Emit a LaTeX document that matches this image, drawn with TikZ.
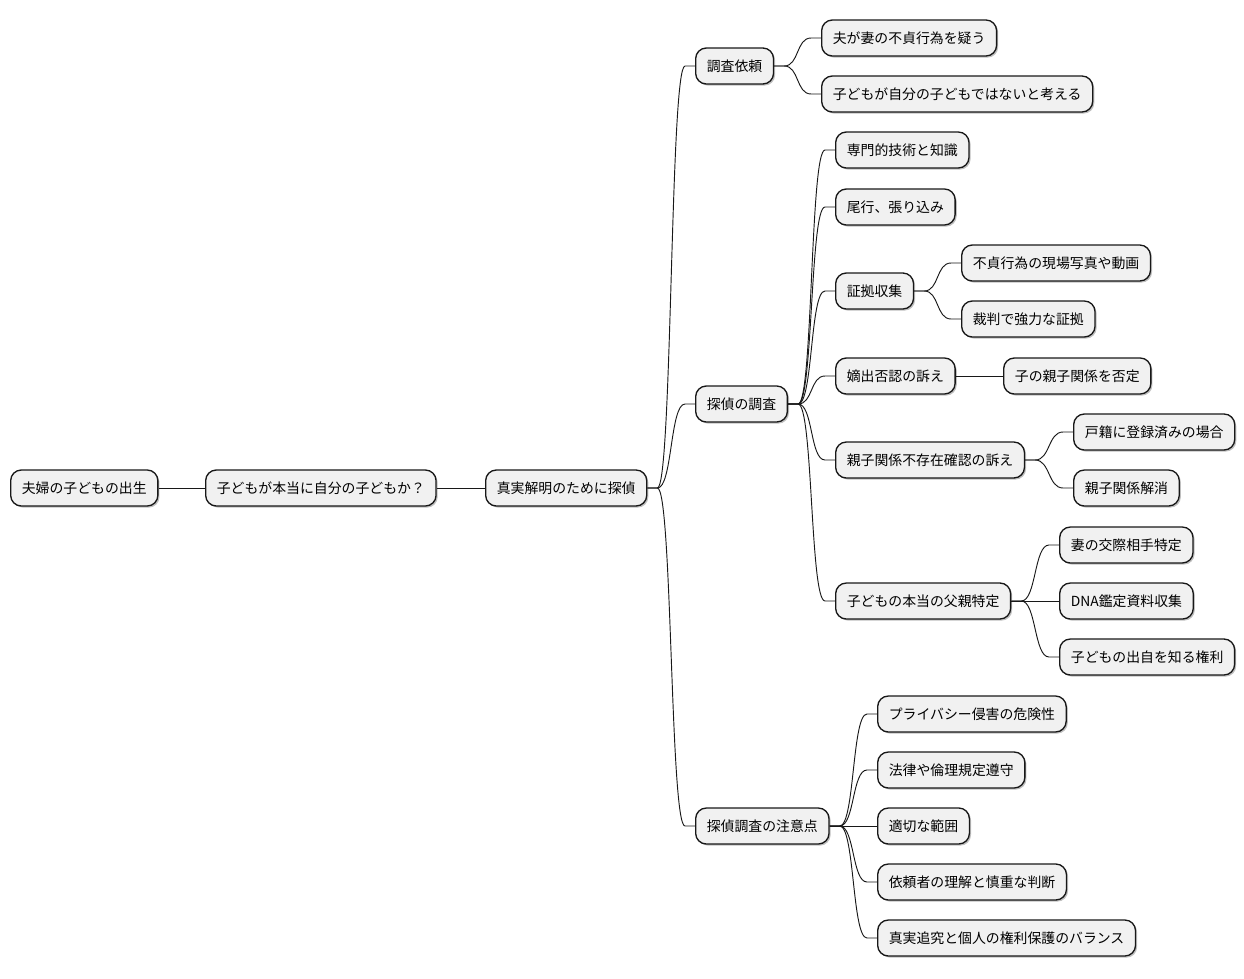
\documentclass[tikz,border=0pt]{standalone}
\usepackage{fontspec}
\setmainfont{Noto Sans CJK JP}
\usetikzlibrary{calc,shadows}
\definecolor{boxfill}{HTML}{F1F1F1}
\definecolor{boxline}{HTML}{181818}
\tikzset{
  mm/.style={draw=boxline, line width=1pt, fill=boxfill, rounded corners=8pt,
    anchor=west, minimum height=27pt, inner ysep=0pt, inner xsep=8.4pt,
    font=\fontsize{10.4pt}{12pt}\selectfont,
    drop shadow={shadow xshift=1.2pt, shadow yshift=-1.2pt, opacity=0.25, fill=black}},
  edge/.style={draw=boxline, line width=0.7pt}
}
\newcommand\mmconn[2]{\draw[edge] (#1.east) -- ++(10,0) .. controls +(15,0) and ($(#2.west)+(-25,0)$) .. ($(#2.west)+(-10,0)$) -- (#2.west);}
\newcommand\mmline[2]{\draw[edge] ($(#1.east)+(0,0.5)$) -- ($(#2.west)+(0,0.5)$);}
\begin{document}
\begin{tikzpicture}[x=0.75pt,y=-0.75pt]
\useasboundingbox (0,0) rectangle (1244,978);
\node[mm] (n0) at (10,488) {夫婦の子どもの出生};
\node[mm] (n1) at (205,488) {子どもが本当に自分の子どもか？};
\node[mm] (n2) at (485,488) {真実解明のために探偵};
\node[mm] (a) at (695,66) {調査依頼};
\node[mm] (a1) at (821,38) {夫が妻の不貞行為を疑う};
\node[mm] (a2) at (821,94) {子どもが自分の子どもではないと考える};
\node[mm] (b) at (695,404) {探偵の調査};
\node[mm] (b1) at (835,150) {専門的技術と知識};
\node[mm] (b2) at (835,207) {尾行、張り込み};
\node[mm] (b3) at (835,291) {証拠収集};
\node[mm] (b31) at (961,263) {不貞行為の現場写真や動画};
\node[mm] (b32) at (961,319) {裁判で強力な証拠};
\node[mm] (b4) at (835,376) {嫡出否認の訴え};
\node[mm] (b41) at (1003,376) {子の親子関係を否定};
\node[mm] (b5) at (835,460) {親子関係不存在確認の訴え};
\node[mm] (b51) at (1073,432) {戸籍に登録済みの場合};
\node[mm] (b52) at (1073,488) {親子関係解消};
\node[mm] (b6) at (835,601) {子どもの本当の父親特定};
\node[mm] (b61) at (1059,545) {妻の交際相手特定};
\node[mm] (b62) at (1059,601) {DNA鑑定資料収集};
\node[mm] (b63) at (1059,657) {子どもの出自を知る権利};
\node[mm] (c) at (695,826) {探偵調査の注意点};
\node[mm] (c1) at (877,714) {プライバシー侵害の危険性};
\node[mm] (c2) at (877,770) {法律や倫理規定遵守};
\node[mm] (c3) at (877,826) {適切な範囲};
\node[mm] (c4) at (877,882) {依頼者の理解と慎重な判断};
\node[mm] (c5) at (877,938) {真実追究と個人の権利保護のバランス};
\mmline{n0}{n1}
\mmline{n1}{n2}
\mmconn{n2}{a}
\mmconn{n2}{b}
\mmconn{n2}{c}
\mmconn{a}{a1}
\mmconn{a}{a2}
\mmconn{b}{b1}
\mmconn{b}{b2}
\mmconn{b}{b3}
\mmconn{b}{b4}
\mmconn{b}{b5}
\mmconn{b}{b6}
\mmconn{b3}{b31}
\mmconn{b3}{b32}
\mmline{b4}{b41}
\mmconn{b5}{b51}
\mmconn{b5}{b52}
\mmconn{b6}{b61}
\mmline{b6}{b62}
\mmconn{b6}{b63}
\mmconn{c}{c1}
\mmconn{c}{c2}
\mmconn{c}{c3}
\mmconn{c}{c4}
\mmconn{c}{c5}
\end{tikzpicture}
\end{document}
